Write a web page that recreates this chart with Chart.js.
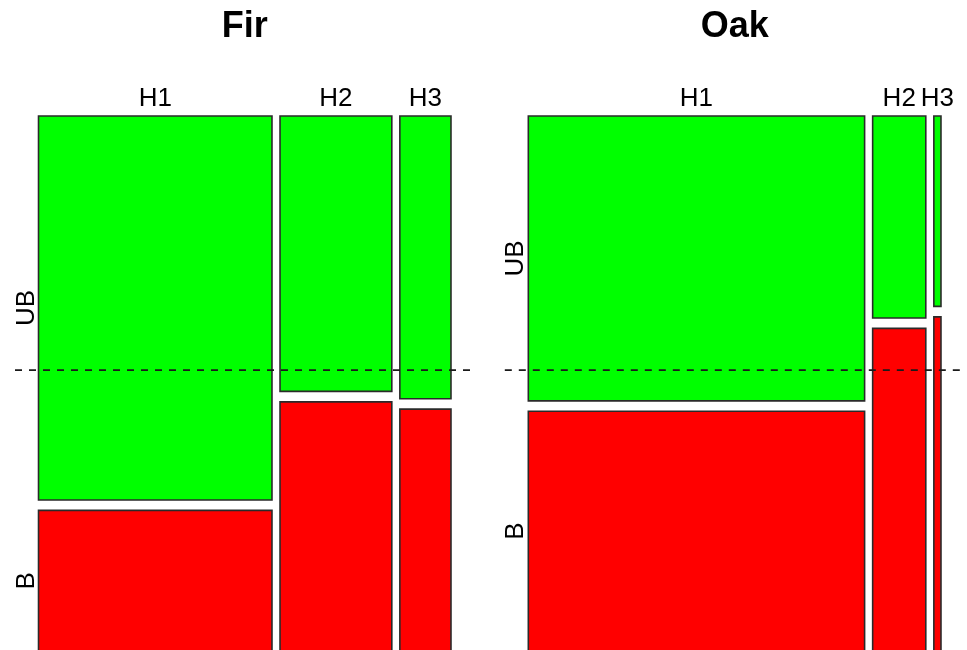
<!DOCTYPE html>
<html>
<head>
<meta charset="utf-8">
<script src="https://cdn.jsdelivr.net/npm/chart.js@4/dist/chart.umd.min.js"></script>
<style>
  html, body { margin: 0; padding: 0; background: #fff; overflow: hidden; }
  #wrap { position: relative; width: 967px; height: 650px; overflow: hidden; background: #fff; }
  .panel { position: absolute; top: 0; }
</style>
</head>
<body>
<div id="wrap">
  <div class="panel" style="left:0"><canvas id="fir" width="484" height="700"></canvas></div>
  <div class="panel" style="left:484px"><canvas id="oak" width="483" height="700"></canvas></div>
</div>
<script>
// Height classes (columns) and burn status (rows)
const heightClasses = ['H1', 'H2', 'H3'];
const statusLevels = ['UB', 'B'];

// Fir: share of trees in each height class (%) and share unburnt within each class (%)
const firColumnShare = [58.9, 28.2, 12.9];
const firUBShare = [73.2, 52.5, 53.9];

// Oak: same breakdown
const oakColumnShare = [84.8, 13.4, 1.8];
const oakUBShare = [54.3, 38.5, 36.3];

// Dashed reference level, in panel height units (0 = bottom, 1 = top)
const referenceLevel = 0.525;

// Layout constants
const TILE_GAP = 0.0195;
const X_MIN = -0.057, X_MAX = 1.057;
const Y_MIN = -0.04, Y_MAX = 1.04;
const FONT = '"Liberation Sans", Arial, Helvetica, sans-serif';
const UB_COLOR = '#00ff00';
const B_COLOR = '#ff0000';

function buildTiles(colShare, ubShare) {
  const total = colShare.reduce((a, b) => a + b, 0);
  const usableX = 1 - TILE_GAP * (colShare.length - 1);
  const usableY = 1 - TILE_GAP;
  const tiles = [];
  let x = 0;
  colShare.forEach((s, i) => {
    const w = s / total * usableX;
    const ub = ubShare[i] / 100;
    const bTop = (1 - ub) * usableY;
    tiles.push({ col: i, level: 'B', x0: x, x1: x + w, y0: 0, y1: bTop });
    tiles.push({ col: i, level: 'UB', x0: x, x1: x + w, y0: bTop + TILE_GAP, y1: 1 });
    x += w + TILE_GAP;
  });
  return tiles;
}

function labelPlugin(tiles) {
  return {
    id: 'tileLabels',
    afterDraw(chart) {
      const { ctx, scales: { x, y } } = chart;
      ctx.save();
      ctx.fillStyle = '#000';
      ctx.font = '26px ' + FONT;
      ctx.textAlign = 'center';
      ctx.textBaseline = 'alphabetic';
      const topPx = y.getPixelForValue(1);
      heightClasses.forEach((h, i) => {
        const t = tiles.find(tt => tt.col === i);
        ctx.fillText(h, x.getPixelForValue((t.x0 + t.x1) / 2), topPx - 10);
      });
      const leftPx = x.getPixelForValue(0);
      statusLevels.forEach(l => {
        const t = tiles.find(tt => tt.col === 0 && tt.level === l);
        const cy = y.getPixelForValue((t.y0 + t.y1) / 2);
        ctx.save();
        ctx.translate(leftPx - 5, cy);
        ctx.rotate(-Math.PI / 2);
        ctx.fillText(l, 0, 0);
        ctx.restore();
      });
      ctx.restore();
    }
  };
}

function makePanel(canvasId, title, colShare, ubShare, padLeft, padRight) {
  const tiles = buildTiles(colShare, ubShare);
  const datasets = [];
  // reference line (first = drawn on top)
  datasets.push({
    data: [{ x: X_MIN, y: referenceLevel }, { x: X_MAX, y: referenceLevel }],
    borderColor: '#1a1a1a', borderWidth: 1.6, borderDash: [7, 7],
    pointRadius: 0, showLine: true, fill: false, clip: false
  });
  // tile outlines
  tiles.forEach(t => {
    datasets.push({
      data: [
        { x: t.x0, y: t.y0 }, { x: t.x0, y: t.y1 }, { x: t.x1, y: t.y1 },
        { x: t.x1, y: t.y0 }, { x: t.x0, y: t.y0 }, { x: t.x0, y: t.y1 }
      ],
      borderColor: '#2a2a2a', borderWidth: 1.6, pointRadius: 0,
      showLine: true, fill: false, clip: false, tension: 0
    });
  });
  // tile fills
  tiles.forEach(t => {
    datasets.push({
      data: [{ x: t.x0, y: t.y1 }, { x: t.x1, y: t.y1 }],
      borderWidth: 0, borderColor: 'rgba(0,0,0,0)',
      backgroundColor: t.level === 'UB' ? UB_COLOR : B_COLOR,
      fill: { value: t.y0 }, pointRadius: 0, showLine: true
    });
  });

  return new Chart(document.getElementById(canvasId), {
    type: 'scatter',
    data: { datasets },
    options: {
      responsive: false,
      animation: false,
      events: [],
      layout: { padding: { left: padLeft, right: padRight, top: 0, bottom: 27.6 } },
      scales: {
        x: { type: 'linear', min: X_MIN, max: X_MAX, display: false },
        y: { type: 'linear', min: Y_MIN, max: Y_MAX, display: false }
      },
      plugins: {
        legend: { display: false },
        tooltip: { enabled: false },
        title: {
          display: true, text: title, color: '#000',
          font: { family: FONT, size: 36, weight: 'bold', lineHeight: 1.2 },
          padding: { top: 5.6, bottom: 45.8 }
        }
      }
    },
    plugins: [labelPlugin(tiles)]
  });
}

makePanel('fir', 'Fir', firColumnShare, firUBShare, 15, 9.5);
makePanel('oak', 'Oak', oakColumnShare, oakUBShare, 20.8, 2.5);
</script>
</body>
</html>
